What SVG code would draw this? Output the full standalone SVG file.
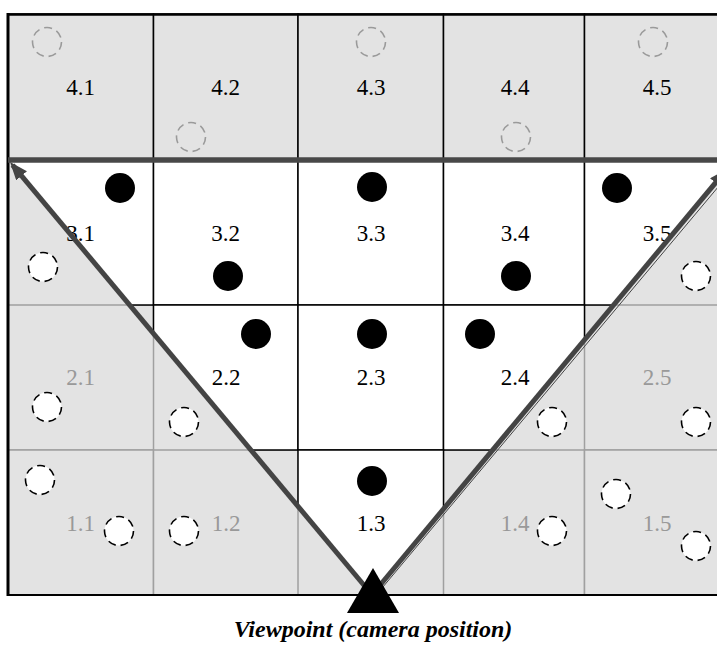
<svg xmlns="http://www.w3.org/2000/svg" width="717" height="645" viewBox="0 0 717 645">
<style>
.gc{fill:#e3e3e3;stroke:#a0a0a0;stroke-width:1.5}
.tc{fill:#e3e3e3;stroke:#000;stroke-width:1.5}
.wc{fill:#fff;stroke:#000;stroke-width:1.5}
.lb{font-family:"Liberation Serif","Times New Roman",serif;font-size:23px;text-anchor:middle;fill:#000}
.lg{fill:#999}
.dot{fill:#000}
.dc{fill:#fff;stroke:#000;stroke-width:1.6;stroke-dasharray:8 5}
.gd{fill:none;stroke:#9a9a9a;stroke-width:1.6;stroke-dasharray:8 5}
.view{stroke:#444;stroke-width:5;fill:none;stroke-linecap:butt}
.cap{font-family:"Liberation Serif","Times New Roman",serif;font-size:24px;font-weight:bold;font-style:italic;text-anchor:middle;fill:#000}
</style>
<defs>
<clipPath id="cone"><polygon points="8,160 735,160 372,596"/></clipPath>
<marker id="ah" markerUnits="userSpaceOnUse" markerWidth="22" markerHeight="16" refX="14" refY="7" orient="auto"><path d="M0,0 L18,7 L0,14 Z" fill="#444"/></marker>
</defs>
<rect x="8" y="14" width="722" height="581" fill="#e3e3e3"/>
<g id="row4">
<g id="cell-4-1"><rect class="tc" x="8" y="14" width="145.5" height="146"/><text class="lb" x="80.5" y="95">4.1</text><circle class="gd" cx="47" cy="42" r="14.5"/></g>
<g id="cell-4-2"><rect class="tc" x="153.5" y="14" width="144.5" height="146"/><text class="lb" x="225.5" y="95">4.2</text><circle class="gd" cx="191" cy="137" r="14.5"/></g>
<g id="cell-4-3"><rect class="tc" x="298" y="14" width="145.5" height="146"/><text class="lb" x="371" y="95">4.3</text><circle class="gd" cx="371" cy="42" r="14.5"/></g>
<g id="cell-4-4"><rect class="tc" x="443.5" y="14" width="141" height="146"/><text class="lb" x="515" y="95">4.4</text><circle class="gd" cx="516" cy="137" r="14.5"/></g>
<g id="cell-4-5"><rect class="tc" x="584.5" y="14" width="145.5" height="146"/><text class="lb" x="657" y="95">4.5</text><circle class="gd" cx="653" cy="42" r="14.5"/></g>
</g>
<g id="outside">
<g id="cell-2-1"><rect class="gc" x="8" y="305" width="145.5" height="145"/><text class="lb lg" x="80.5" y="385">2.1</text><circle class="dc" cx="47" cy="407" r="14.5"/></g>
<g id="cell-2-5"><rect class="gc" x="584.5" y="305" width="145.5" height="145"/><text class="lb lg" x="657" y="385">2.5</text><circle class="dc" cx="696" cy="422" r="14.5"/></g>
<g id="cell-1-1"><rect class="gc" x="8" y="450" width="145.5" height="145"/><text class="lb lg" x="80.5" y="531">1.1</text><circle class="dc" cx="40" cy="480" r="14.5"/><circle class="dc" cx="119" cy="531" r="14.5"/></g>
<g id="cell-1-2"><rect class="gc" x="153.5" y="450" width="144.5" height="145"/><text class="lb lg" x="226" y="531">1.2</text><circle class="dc" cx="184" cy="531" r="14.5"/></g>
<g id="cell-1-4"><rect class="gc" x="443.5" y="450" width="141" height="145"/><text class="lb lg" x="515" y="531">1.4</text><circle class="dc" cx="552" cy="531" r="14.5"/></g>
<g id="cell-1-5"><rect class="gc" x="584.5" y="450" width="145.5" height="145"/><text class="lb lg" x="657" y="531">1.5</text><circle class="dc" cx="616" cy="494" r="14.5"/><circle class="dc" cx="696" cy="546" r="14.5"/></g>
</g>
<g id="inview">
<g id="cell-3-1"><rect class="wc" clip-path="url(#cone)" x="8" y="160" width="145.5" height="145"/><text class="lb" x="80.5" y="241">3.1</text><circle class="dot" cx="120" cy="188" r="15"/><circle class="dc" cx="43" cy="267" r="14.5"/></g>
<g id="cell-3-2"><rect class="wc" clip-path="url(#cone)" x="153.5" y="160" width="144.5" height="145"/><text class="lb" x="225.5" y="241">3.2</text><circle class="dot" cx="228" cy="276" r="15"/></g>
<g id="cell-3-3"><rect class="wc" clip-path="url(#cone)" x="298" y="160" width="145.5" height="145"/><text class="lb" x="371" y="241">3.3</text><circle class="dot" cx="372" cy="187" r="15"/></g>
<g id="cell-3-4"><rect class="wc" clip-path="url(#cone)" x="443.5" y="160" width="141" height="145"/><text class="lb" x="515" y="241">3.4</text><circle class="dot" cx="516" cy="276" r="15"/></g>
<g id="cell-3-5"><rect class="wc" clip-path="url(#cone)" x="584.5" y="160" width="145.5" height="145"/><text class="lb" x="657" y="241">3.5</text><circle class="dot" cx="617" cy="188" r="15"/><circle class="dc" cx="696" cy="276" r="14.5"/></g>
<g id="cell-2-2"><rect class="wc" clip-path="url(#cone)" x="153.5" y="305" width="144.5" height="145"/><text class="lb" x="226" y="385">2.2</text><circle class="dot" cx="256" cy="334" r="15"/><circle class="dc" cx="184" cy="422" r="14.5"/></g>
<g id="cell-2-3"><rect class="wc" clip-path="url(#cone)" x="298" y="305" width="145.5" height="145"/><text class="lb" x="371" y="385">2.3</text><circle class="dot" cx="372" cy="334" r="15"/></g>
<g id="cell-2-4"><rect class="wc" clip-path="url(#cone)" x="443.5" y="305" width="141" height="145"/><text class="lb" x="515" y="385">2.4</text><circle class="dot" cx="480" cy="334" r="15"/><circle class="dc" cx="552" cy="422" r="14.5"/></g>
<g id="cell-1-3"><rect class="wc" clip-path="url(#cone)" x="298" y="450" width="145.5" height="145"/><text class="lb" x="371" y="531">1.3</text><circle class="dot" cx="372" cy="481" r="15"/></g>
</g>
<g id="frame" fill="none" stroke="#000">
<line x1="8" y1="13" x2="8" y2="596" stroke-width="3"/>
<line x1="7" y1="14.5" x2="730" y2="14.5" stroke-width="2.5"/>
<line x1="7" y1="595" x2="730" y2="595" stroke-width="2.2"/>
</g>
<g id="connectors">
<line x1="8" y1="160" x2="717" y2="160" stroke="#484848" stroke-width="5.5"/>
<line class="view" x1="373" y1="596" x2="12.6" y2="165.1" marker-end="url(#ah)"/>
<line x1="374.5" y1="597" x2="729" y2="174" stroke="#444" stroke-width="1"/>
<line class="view" x1="371" y1="596" x2="724.4" y2="172.1" marker-end="url(#ah)"/>
</g>
<g id="viewpoint">
<polygon points="373,568 347,613 399,613" fill="#000"/>
<text class="cap" x="373" y="637">Viewpoint (camera position)</text>
</g>
</svg>
